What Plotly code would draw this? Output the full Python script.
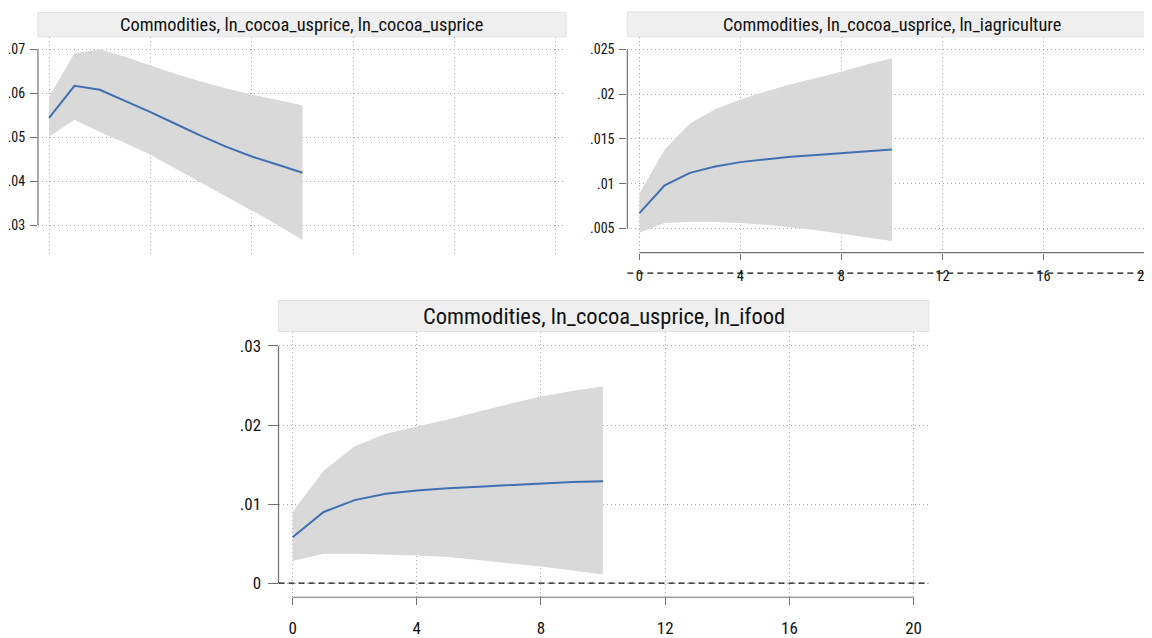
import plotly.graph_objects as go

# ---------------- data ----------------
steps = [0, 1, 2, 3, 4, 5, 6, 7, 8, 9, 10]

# Panel A: ln_cocoa_usprice -> ln_cocoa_usprice
irf_a = [0.0544, 0.0617, 0.0608, 0.0583, 0.0557, 0.0530, 0.0503, 0.0478, 0.0456, 0.0438, 0.0419]
upper_a = [0.0592, 0.0691, 0.0700, 0.0683, 0.0663, 0.0644, 0.0627, 0.0611, 0.0597, 0.0585, 0.0573]
lower_a = [0.0501, 0.0540, 0.0512, 0.0487, 0.0460, 0.0428, 0.0396, 0.0365, 0.0333, 0.0301, 0.0266]

# Panel B: ln_cocoa_usprice -> ln_iagriculture
irf_b = [0.0067, 0.0098, 0.0112, 0.0119, 0.0124, 0.0127, 0.0130, 0.0132, 0.0134, 0.0136, 0.0138]
upper_b = [0.0089, 0.0138, 0.0167, 0.0183, 0.0194, 0.0203, 0.0211, 0.0218, 0.0225, 0.0233, 0.0240]
lower_b = [0.0045, 0.0056, 0.0057, 0.0057, 0.0056, 0.0054, 0.0051, 0.0048, 0.0044, 0.0040, 0.0036]

# Panel C: ln_cocoa_usprice -> ln_ifood
irf_c = [0.0058, 0.0090, 0.0105, 0.0113, 0.0117, 0.0120, 0.0122, 0.0124, 0.0126, 0.0128, 0.0129]
upper_c = [0.0090, 0.0142, 0.0173, 0.0189, 0.0198, 0.0207, 0.0217, 0.0227, 0.0236, 0.0243, 0.0249]
lower_c = [0.0028, 0.0037, 0.0037, 0.0036, 0.0035, 0.0033, 0.0029, 0.0025, 0.0021, 0.0016, 0.0011]

titles = [
    "Commodities, ln_cocoa_usprice, ln_cocoa_usprice",
    "Commodities, ln_cocoa_usprice, ln_iagriculture",
    "Commodities, ln_cocoa_usprice, ln_ifood",
]
x_ticks = [0, 4, 8, 12, 16, 20]
x_ticklabels = ["0", "4", "8", "12", "16", "20"]
y_ticks_a = [0.03, 0.04, 0.05, 0.06, 0.07]
y_labels_a = [".03", ".04", ".05", ".06", ".07"]
y_ticks_b = [0.005, 0.01, 0.015, 0.02, 0.025]
y_labels_b = [".005", ".01", ".015", ".02", ".025"]
y_ticks_c = [0, 0.01, 0.02, 0.03]
y_labels_c = ["0", ".01", ".02", ".03"]

# ---------------- styling ----------------
# the page body keeps its default 8px margin, so the figure sits 8px in from the window corner
OX, OY = 8, 8
W, H = 1144, 630
FONT = "Liberation Sans Narrow, Arial Narrow, Roboto Condensed, Liberation Sans, Arial, sans-serif"
BAND = "#d9d9d9"
LINE = "#4170b0"
GRID = "#a8a8a8"
AXC = "#707070"


def fx(px):
    return (px - OX) / W


def fy(py):
    return 1 - (py - OY) / H


fig = go.Figure()

panels = [
    dict(ax="", irf=irf_a, up=upper_a, lo=lower_a),
    dict(ax="2", irf=irf_b, up=upper_b, lo=lower_b),
    dict(ax="3", irf=irf_c, up=upper_c, lo=lower_c),
]
for p in panels:
    xa, ya = "x" + p["ax"], "y" + p["ax"]
    fig.add_trace(go.Scatter(x=steps, y=p["up"], mode="lines", line=dict(width=0, color=BAND),
                             xaxis=xa, yaxis=ya, showlegend=False, hoverinfo="skip"))
    fig.add_trace(go.Scatter(x=steps, y=p["lo"], mode="lines", line=dict(width=0, color=BAND),
                             fill="tonexty", fillcolor=BAND,
                             xaxis=xa, yaxis=ya, showlegend=False, hoverinfo="skip"))
    fig.add_trace(go.Scatter(x=steps, y=p["irf"], mode="lines", line=dict(width=2, color=LINE),
                             xaxis=xa, yaxis=ya, showlegend=False))

grid_common = dict(showgrid=True, gridcolor=GRID, gridwidth=1, griddash="1px,3px",
                   zeroline=False, showline=False)

# panel geometry (pixels in the window)
geo = {
    "": dict(x0=37, x1=566, y0=38, y1=258, xr=[-0.44, 20.4], yr=[0.0235, 0.0727],
             strip=(37, 566, 12.5, 37.3), tsize=18.4, center=301.5),
    "2": dict(x0=627.4, x1=1152, y0=38, y1=257, xr=[-0.48, 20.26], yr=[0.00229, 0.02632],
              strip=(627.4, 1158, 12, 37.3), tsize=18.3, center=892.5),
    "3": dict(x0=278, x1=929.4, y0=338, y1=607.7, xr=[-0.453, 20.49], yr=[-0.00179, 0.03174],
              strip=(278, 929.4, 305.7, 337.3), tsize=22.5, center=603.7),
}

layout = dict(
    width=W, height=H, autosize=False,
    margin=dict(l=0, r=0, t=0, b=0),
    paper_bgcolor="white", plot_bgcolor="white",
    font=dict(family=FONT, color="#111"),
    showlegend=False,
)

ga, gb, gc = geo[""], geo["2"], geo["3"]
# x axes
layout["xaxis"] = dict(domain=[fx(ga["x0"]), fx(ga["x1"])], anchor="y", range=ga["xr"],
                       tickvals=x_ticks, showticklabels=False, ticks="", **grid_common)
layout["xaxis2"] = dict(domain=[fx(gb["x0"]), min(1, fx(gb["x1"]))], anchor="y2", range=gb["xr"],
                        tickvals=x_ticks, ticktext=x_ticklabels, ticks="outside", ticklen=6,
                        tickcolor=AXC, tickfont=dict(size=14.5, family=FONT), ticklabelstandoff=4,
                        ticklabeloverflow="allow", **grid_common)
layout["xaxis3"] = dict(domain=[fx(gc["x0"]), fx(gc["x1"])], anchor="y3", range=gc["xr"],
                        tickvals=x_ticks, ticktext=x_ticklabels, ticks="outside", ticklen=7,
                        tickcolor=AXC, tickfont=dict(size=17, family=FONT), ticklabelstandoff=8,
                        **grid_common)
# y axes
layout["yaxis"] = dict(domain=[fy(ga["y1"]), fy(ga["y0"])], anchor="x", range=ga["yr"],
                       tickvals=y_ticks_a, ticktext=y_labels_a, ticks="outside", ticklen=7,
                       tickcolor=AXC, tickfont=dict(size=14, family=FONT), ticklabelstandoff=2,
                       **grid_common)
layout["yaxis2"] = dict(domain=[fy(gb["y1"]), fy(gb["y0"])], anchor="x2", range=gb["yr"],
                        tickvals=y_ticks_b, ticktext=y_labels_b, ticks="outside", ticklen=7,
                        tickcolor=AXC, tickfont=dict(size=14, family=FONT), ticklabelstandoff=2,
                        **grid_common)
layout["yaxis3"] = dict(domain=[fy(gc["y1"]), fy(gc["y0"])], anchor="x3", range=gc["yr"],
                        tickvals=y_ticks_c, ticktext=y_labels_c, ticks="outside", ticklen=10,
                        tickcolor=AXC, tickfont=dict(size=17, family=FONT), ticklabelstandoff=3,
                        **grid_common)

shapes = []
annotations = []
for key, title, yt in zip(["", "2", "3"], titles, [y_ticks_a, y_ticks_b, y_ticks_c]):
    g = geo[key]
    sx0, sx1, sy0, sy1 = g["strip"]
    # title strip
    shapes.append(dict(type="rect", xref="paper", yref="paper",
                       x0=fx(sx0), x1=fx(sx1), y0=fy(sy1), y1=fy(sy0),
                       fillcolor="#efefef", line=dict(color="#dde2e8", width=1), layer="below"))
    annotations.append(dict(text=title, xref="paper", yref="paper",
                            x=fx(g["center"]), y=fy((sy0 + sy1) / 2),
                            xanchor="center", yanchor="middle", showarrow=False,
                            font=dict(size=g["tsize"], family=FONT, color="#111")))
    # y-axis line spanning the tick range (Stata style)
    shapes.append(dict(type="line", xref="x" + key + " domain", yref="y" + key,
                       x0=0, x1=0, y0=min(yt), y1=max(yt),
                       line=dict(color=AXC, width=1.2)))

# x-axis lines from first to last tick
for key in ["2", "3"]:
    shapes.append(dict(type="line", xref="x" + key, yref="y" + key + " domain",
                       x0=min(x_ticks), x1=max(x_ticks), y0=0, y1=0,
                       line=dict(color=AXC, width=1.2)))

# dashed zero reference lines (position of y = 0 expressed as a fraction of the y-axis range)
for key in ["2", "3"]:
    yr = geo[key]["yr"]
    zfrac = (0 - yr[0]) / (yr[1] - yr[0])
    shapes.append(dict(type="line", xref="x" + key + " domain", yref="y" + key + " domain",
                       x0=0, x1=1, y0=zfrac, y1=zfrac,
                       line=dict(color="#111", width=1.4, dash="6px,4px")))

layout["shapes"] = shapes
layout["annotations"] = annotations
fig.update_layout(**layout)

fig.write_html("out.html", config={"displayModeBar": False})
